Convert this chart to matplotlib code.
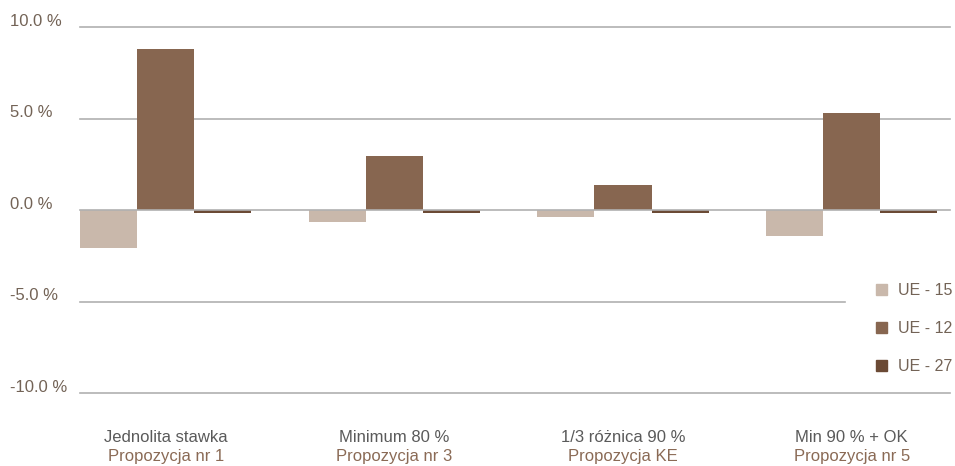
import matplotlib.pyplot as plt
import numpy as np
from matplotlib.patches import Patch

plt.rcParams['font.family'] = ['Liberation Sans', 'DejaVu Sans']

cats_top = ['Jednolita stawka', 'Minimum 80 %', '1/3 różnica 90 %', 'Min 90 % + OK']
cats_bot = ['Propozycja nr 1', 'Propozycja nr 3', 'Propozycja KE', 'Propozycja nr 5']
series = ['UE - 15', 'UE - 12', 'UE - 27']
ue15 = [-2.05, -0.64, -0.37, -1.42]
ue12 = [8.82, 2.98, 1.37, 5.32]
ue27 = [-0.15, -0.15, -0.15, -0.15]
yticks = [10, 5, 0, -5, -10]
ylabels = ['10.0 %', '5.0 %', '0.0 %', '-5.0 %', '-10.0 %']

colors = ['#c9b8ab', '#876650', '#6b4a35']
tick_color = '#736356'

fig = plt.figure(figsize=(9.55, 4.66), dpi=100)
ax = fig.add_axes([80 / 955, 73 / 466, 870 / 955, 365.5 / 466])

x = np.arange(len(cats_top))
w = 0.25
for i, vals in enumerate([ue15, ue12, ue27]):
    ax.bar(x + (i - 1) * w, vals, w, color=colors[i], zorder=2)

for t in yticks:
    xmax = 0.879 if t == -5 else 1.0
    ax.axhline(t, xmin=0, xmax=xmax, color='#b0b0b0', lw=1.2,
               zorder=3 if t == 0 else 1, clip_on=False)

ax.set_xlim(-0.375, 3.43)
ax.set_ylim(-10, 10)
ax.axis('off')

# y labels, left aligned at the figure edge
for t, lab in zip(yticks, ylabels):
    yp = ax.transData.transform((0, t))[1]
    fig.text(10 / 955, (yp + 6) / 466, lab, ha='left', va='center',
             fontsize=12, color=tick_color)

# category labels
for i in range(len(cats_top)):
    xp = ax.transData.transform((x[i], 0))[0] / 955
    fig.text(xp, 1 - 438 / 466, cats_top[i], ha='center', va='center',
             fontsize=12, color='#5a5a5a')
    fig.text(xp, 1 - 457 / 466, cats_bot[i], ha='center', va='center',
             fontsize=12, color='#8a6a55')

handles = [Patch(color=c) for c in colors]
leg = fig.legend(handles, series, loc='upper left', bbox_to_anchor=(876 / 955, 1 - 283 / 466),
                 frameon=False, fontsize=11.5, handlelength=0.7, handleheight=0.7,
                 handletextpad=0.65, labelspacing=1.45, borderpad=0, borderaxespad=0)
for txt in leg.get_texts():
    txt.set_color(tick_color)

fig.savefig('out.png', dpi=100)
